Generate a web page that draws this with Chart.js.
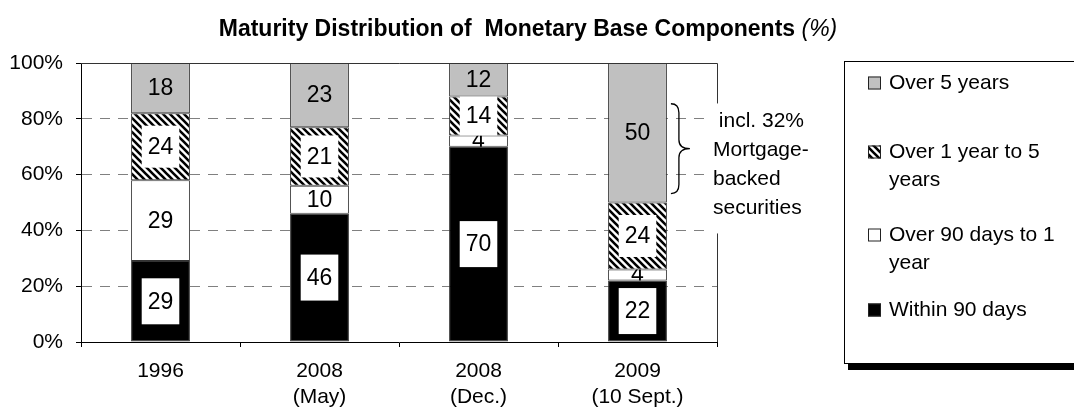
<!DOCTYPE html>
<html>
<head>
<meta charset="utf-8">
<script src="https://cdn.jsdelivr.net/npm/chart.js"></script>
<style>
body { margin: 0; background: #fff; }
</style>
</head>
<body>
<canvas id="myChart" width="1074" height="415"></canvas>
<script>
// chart data
var categories = [['1996'], ['2008', '(May)'], ['2008', '(Dec.)'], ['2009', '(10 Sept.)']];
var within90Days = [29, 46, 70, 22];
var over90DaysTo1Year = [29, 10, 4, 4];
var over1To5Years = [24, 21, 14, 24];
var over5Years = [18, 23, 12, 50];
var yTicks = [0, 20, 40, 60, 80, 100];
var noteLines = [' incl. 32%', 'Mortgage-', 'backed', 'securities'];
var titleMain = 'Maturity Distribution of  Monetary Base Components ';
var titleUnit = '(%)';

var FONT = '"Liberation Sans", Arial, sans-serif';
Chart.defaults.font.family = FONT;
Chart.defaults.color = '#000';

var ctx = document.getElementById('myChart').getContext('2d');

// diagonal hatch like the excel pattern fill
function makeHatch() {
  var n = 7;
  var c = document.createElement('canvas');
  c.width = n; c.height = n;
  var g = c.getContext('2d');
  g.fillStyle = '#fff';
  g.fillRect(0, 0, n, n);
  g.strokeStyle = '#000';
  g.lineWidth = 2.6;
  g.beginPath();
  for (var k = -n; k <= n; k += n) {
    g.moveTo(k - 2, -2);
    g.lineTo(k + n + 2, n + 2);
  }
  g.stroke();
  return ctx.createPattern(c, 'repeat');
}
var hatch = makeHatch();

function wrapText(c, text, maxW) {
  var words = text.split(' '), lines = [], line = '';
  words.forEach(function (w) {
    var t = line ? line + ' ' + w : w;
    if (c.measureText(t).width > maxW && line) {
      lines.push(line);
      line = w;
    } else {
      line = t;
    }
  });
  lines.push(line);
  return lines;
}

// numbers in the bar segments
var segLabels = {
  id: 'segLabels',
  afterDatasetsDraw: function (chart) {
    var c = chart.ctx;
    c.save();
    c.font = '23px ' + FONT;
    c.textAlign = 'center';
    c.textBaseline = 'middle';
    chart.data.datasets.forEach(function (ds, i) {
      chart.getDatasetMeta(i).data.forEach(function (bar, j) {
        var p = bar.getProps(['x', 'y', 'base', 'width'], true);
        var top = Math.min(p.y, p.base), bottom = Math.max(p.y, p.base);
        var cy = (top + bottom) / 2;
        var text = String(ds.data[j]);
        c.save();
        c.beginPath();
        c.rect(p.x - p.width / 2, top, p.width, bottom - top);
        c.clip();
        if (ds.labelBox) {
          var w = c.measureText(text).width + 12;
          var h = Math.min(ds.labelBox, bottom - top + 2);
          c.fillStyle = '#fff';
          c.fillRect(p.x - w / 2, cy - h / 2, w, h);
        }
        c.fillStyle = '#000';
        c.fillText(text, p.x, cy + 1);
        c.restore();
      });
    });
    c.restore();
  }
};

// title, plot frame, note with brace, legend box
var extras = {
  id: 'extras',
  afterDraw: function (chart) {
    var c = chart.ctx;
    var area = chart.chartArea;
    var y = chart.scales.y;
    c.save();

    // title
    c.textBaseline = 'middle';
    c.font = 'bold 23px ' + FONT;
    var w1 = c.measureText(titleMain).width;
    c.font = 'italic 23px ' + FONT;
    var w2 = c.measureText(titleUnit).width;
    var tx = 528 - (w1 + w2) / 2;
    c.textAlign = 'left';
    c.fillStyle = '#000';
    c.font = 'bold 23px ' + FONT;
    c.fillText(titleMain, tx, 30);
    c.font = 'italic 23px ' + FONT;
    c.fillText(titleUnit, tx + w1, 30);

    // top and right frame
    c.strokeStyle = '#333';
    c.lineWidth = 1;
    c.beginPath();
    c.moveTo(area.left, area.top + 0.5);
    c.lineTo(area.right + 0.5, area.top + 0.5);
    c.lineTo(area.right + 0.5, area.bottom);
    c.stroke();

    // note
    var lastBar = chart.getDatasetMeta(3).data[3];
    var bx = lastBar.x + lastBar.width / 2;
    c.fillStyle = '#fff';
    c.fillRect(area.right - 10, y.getPixelForValue(85.5), 105, 130);
    c.fillStyle = '#000';
    c.font = '21px ' + FONT;
    noteLines.forEach(function (s, i) {
      c.fillText(s, area.right - 4, y.getPixelForValue(79) + i * 29);
    });

    // brace
    var y0 = y.getPixelForValue(85.4), y1 = y.getPixelForValue(53.2);
    var ym = (y0 + y1) / 2;
    var x0 = bx + 4, x1 = bx + 12, xt = bx + 23, r = 9;
    c.strokeStyle = '#000';
    c.lineWidth = 1.3;
    c.beginPath();
    c.moveTo(x0, y0);
    c.quadraticCurveTo(x1, y0, x1, y0 + r);
    c.lineTo(x1, ym - r);
    c.quadraticCurveTo(x1, ym, xt, ym);
    c.quadraticCurveTo(x1, ym, x1, ym + r);
    c.lineTo(x1, y1 - r);
    c.quadraticCurveTo(x1, y1, x0, y1);
    c.stroke();

    // legend
    var lx = 844, ly = 61, lb = 363;
    c.fillStyle = '#000';
    c.fillRect(lx + 4, lb + 1, 300, 6);
    c.fillStyle = '#fff';
    c.fillRect(lx, ly, 300, lb - ly);
    c.strokeStyle = '#000';
    c.lineWidth = 1;
    c.strokeRect(lx + 0.5, ly + 0.5, 300, lb - ly);
    var itemY = [22, 91, 174, 249];
    c.font = '21px ' + FONT;
    var sets = chart.data.datasets.slice().reverse();
    sets.forEach(function (ds, i) {
      var iy = ly + itemY[i];
      c.fillStyle = ds.backgroundColor;
      c.fillRect(lx + 24, iy - 6.5, 13, 13);
      c.strokeStyle = '#222';
      c.strokeRect(lx + 24.5, iy - 6, 12, 12);
      c.fillStyle = '#000';
      wrapText(c, ds.label, 176).forEach(function (line, k) {
        c.fillText(line, lx + 45, iy + k * 28);
      });
    });

    c.restore();
  }
};

var myChart = new Chart(ctx, {
  type: 'bar',
  data: {
    labels: categories,
    datasets: [
      { label: 'Within 90 days', data: within90Days, backgroundColor: '#000', labelBox: 46 },
      { label: 'Over 90 days to 1 year', data: over90DaysTo1Year, backgroundColor: '#fff', labelBox: 0 },
      { label: 'Over 1 year to 5 years', data: over1To5Years, backgroundColor: hatch, labelBox: 42 },
      { label: 'Over 5 years', data: over5Years, backgroundColor: '#c0c0c0', labelBox: 0 }
    ]
  },
  options: {
    responsive: false,
    animation: false,
    devicePixelRatio: 1,
    layout: { padding: { top: 63, right: 357, bottom: 0, left: 0 } },
    datasets: {
      bar: {
        borderColor: '#333',
        borderWidth: 1,
        borderSkipped: false,
        barPercentage: 0.37,
        categoryPercentage: 1
      }
    },
    plugins: {
      legend: { display: false },
      title: { display: false },
      tooltip: { enabled: false }
    },
    scales: {
      x: {
        stacked: true,
        afterFit: function (s) { s.height = 73; },
        grid: { drawOnChartArea: false, tickLength: 5, tickColor: '#000', offset: true },
        border: { color: '#000' },
        ticks: { font: { size: 21, lineHeight: 1.2 }, padding: 12, color: '#000', maxRotation: 0 }
      },
      y: {
        stacked: true,
        min: 0,
        max: 100,
        afterFit: function (s) { s.width = 81; },
        afterBuildTicks: function (s) {
          s.ticks = yTicks.map(function (v) { return { value: v }; });
        },
        grid: {
          color: function (c) {
            var v = c.tick ? c.tick.value : 0;
            return (v === 0 || v === 100) ? 'rgba(0,0,0,0)' : '#808080';
          },
          tickColor: '#000',
          tickLength: 5
        },
        border: { color: '#000', dash: [10, 8] },
        ticks: {
          font: { size: 21 },
          padding: 13,
          color: '#000',
          callback: function (v) { return v + '%'; }
        }
      }
    }
  },
  plugins: [segLabels, extras]
});
</script>
</body>
</html>
